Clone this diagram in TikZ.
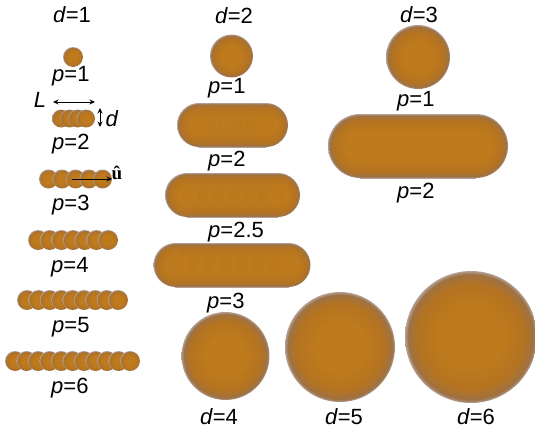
\documentclass[tikz,border=0pt]{standalone}
\usepackage{fontspec}
\setmainfont{Liberation Sans}
\newfontfamily\vecfont{Liberation Serif}
\usetikzlibrary{positioning,arrows.meta}

\definecolor{orcen}{RGB}{190,122,28}
\definecolor{ormid}{RGB}{180,115,33}
\definecolor{oredge}{RGB}{158,114,68}
\definecolor{orhalo}{RGB}{178,160,150}

% one bead: the path box is mapped onto the inner 25bp
\pgfdeclareradialshading{beadshade}{\pgfpoint{0bp}{0bp}}{color(0bp)=(orcen); color(11bp)=(orcen); color(20bp)=(ormid); color(23.8bp)=(oredge); color(25bp)=(orhalo); color(50bp)=(orhalo)}
% same profile across a straight rod
\pgfdeclareverticalshading{rodband}{100bp}{color(0bp)=(orhalo); color(25bp)=(orhalo); color(26.2bp)=(oredge); color(30bp)=(ormid); color(39bp)=(orcen); color(61bp)=(orcen); color(70bp)=(ormid); color(73.8bp)=(oredge); color(75bp)=(orhalo); color(100bp)=(orhalo)}

% row of beads: centre x, centre y, radius, length, number of beads
\newcommand\beadrow[5]{%
  \pgfmathsetmacro\rodA{#1-#4/2+#3}
  \pgfmathsetmacro\rodstep{(#4-2*#3)/(#5-1)}
  \foreach \k in {1,...,#5}
    \shade[shading=beadshade] ({\rodA+(\k-1)*\rodstep},#2) circle (#3pt);
}
% smooth rod with faint beads on top (0 = none)
\newcommand\smoothrod[5]{%
  \pgfmathsetmacro\rodA{#1-#4/2+#3}
  \pgfmathsetmacro\rodB{#1+#4/2-#3}
  \begin{scope}
    \clip (\rodA-#3-2,#2-#3-2) rectangle (\rodA,#2+#3+2);
    \shade[shading=beadshade] (\rodA,#2) circle (#3pt);
  \end{scope}
  \begin{scope}
    \clip (\rodB,#2-#3-2) rectangle (\rodB+#3+2,#2+#3+2);
    \shade[shading=beadshade] (\rodB,#2) circle (#3pt);
  \end{scope}
  \shade[shading=rodband] (\rodA-0.4,#2-#3) rectangle (\rodB+0.4,#2+#3);
  \ifnum#5>1
    \pgfmathsetmacro\rodstep{(\rodB-\rodA)/(#5-1)}
    \foreach \k in {1,...,#5}
      \shade[shading=beadshade, opacity=0.08] ({\rodA+(\k-1)*\rodstep},#2) circle (#3pt);
  \fi
}

\begin{document}
\begin{tikzpicture}[x=1pt, y=-1pt, >={Stealth[length=5.5pt,width=5pt]}, line join=round, line cap=round,
  lab/.style={font=\fontsize{22}{25}\selectfont, inner sep=0pt},
  plab/.style={lab, anchor=west},
  dim/.style={line width=1pt}]
\useasboundingbox (0,0) rectangle (535,437);

% d = 1
\node[lab] (d1) at (72,15) {\textit{d}=1};
\shade[shading=beadshade] (73,57) circle (10pt);
\node[plab] (d1p1) at (52,76) {\textit{p}=1};
\beadrow{73.5}{118.5}{9}{43}{4}
\node[plab] (d1p2) at (52,144) {\textit{p}=2};
\beadrow{75.5}{179}{9.5}{73}{5}
\node[plab] (d1p3) at (52,205) {\textit{p}=3};
\beadrow{73}{240}{10}{90}{7}
\node[plab] (d1p4) at (51,267) {\textit{p}=4};
\beadrow{72.5}{300}{10}{111}{9}
\node[plab] (d1p5) at (52,327) {\textit{p}=5};
\beadrow{72.5}{361}{10}{135}{11}
\node[plab] (d1p6) at (51,388) {\textit{p}=6};

% length, width and axis of a rod
\coordinate (La) at (53,102);
\coordinate (Lb) at (95,102);
\coordinate (wa) at (100,108);
\coordinate (wb) at (100,127);
\coordinate (ua) at (72,179);
\coordinate (ub) at (112,179);
\draw[dim,<->] (La) -- (Lb);
\node[lab] (Llab) at (40,100) {\textit{L}};
\draw[dim,<->] (wa) -- (wb);
\node[lab] (wlab) at (112,119) {\textit{d}};
\draw[dim,->] (ua) -- (ub);
\node[font=\fontsize{19}{21}\vecfont\bfseries, inner sep=0pt] (ulab) at (117,173) {û};

% d = 2
\node[lab] (d2) at (234,16) {\textit{d}=2};
\shade[shading=beadshade] (231.5,56) circle (21.5pt);
\node[plab] (d2p1) at (208,88) {\textit{p}=1};
\smoothrod{232.5}{125}{22}{111}{6}
\node[plab] (d2p2) at (208,161) {\textit{p}=2};
\smoothrod{232.5}{195}{22}{135}{7}
\node[plab] (d2p25) at (208,232) {\textit{p}=2.5};
\smoothrod{232}{265}{22}{157}{8}
\node[plab] (d2p3) at (207,303) {\textit{p}=3};

% d = 3
\node[lab] (d3) at (419,15) {\textit{d}=3};
\shade[shading=beadshade] (418,57) circle (32pt);
\node[plab] (d3p1) at (397,101) {\textit{p}=1};
\smoothrod{418}{146}{32}{180}{0}
\node[plab] (d3p2) at (397,193) {\textit{p}=2};

% spheres, d = 4, 5, 6
\shade[shading=beadshade] (225.5,356) circle (44pt);
\node[lab] (d4) at (219,417) {\textit{d}=4};
\shade[shading=beadshade] (340,347) circle (55pt);
\node[lab] (d5) at (344,417) {\textit{d}=5};
\shade[shading=beadshade] (471,337) circle (66pt);
\node[lab] (d6) at (476,417) {\textit{d}=6};
\end{tikzpicture}
\end{document}
